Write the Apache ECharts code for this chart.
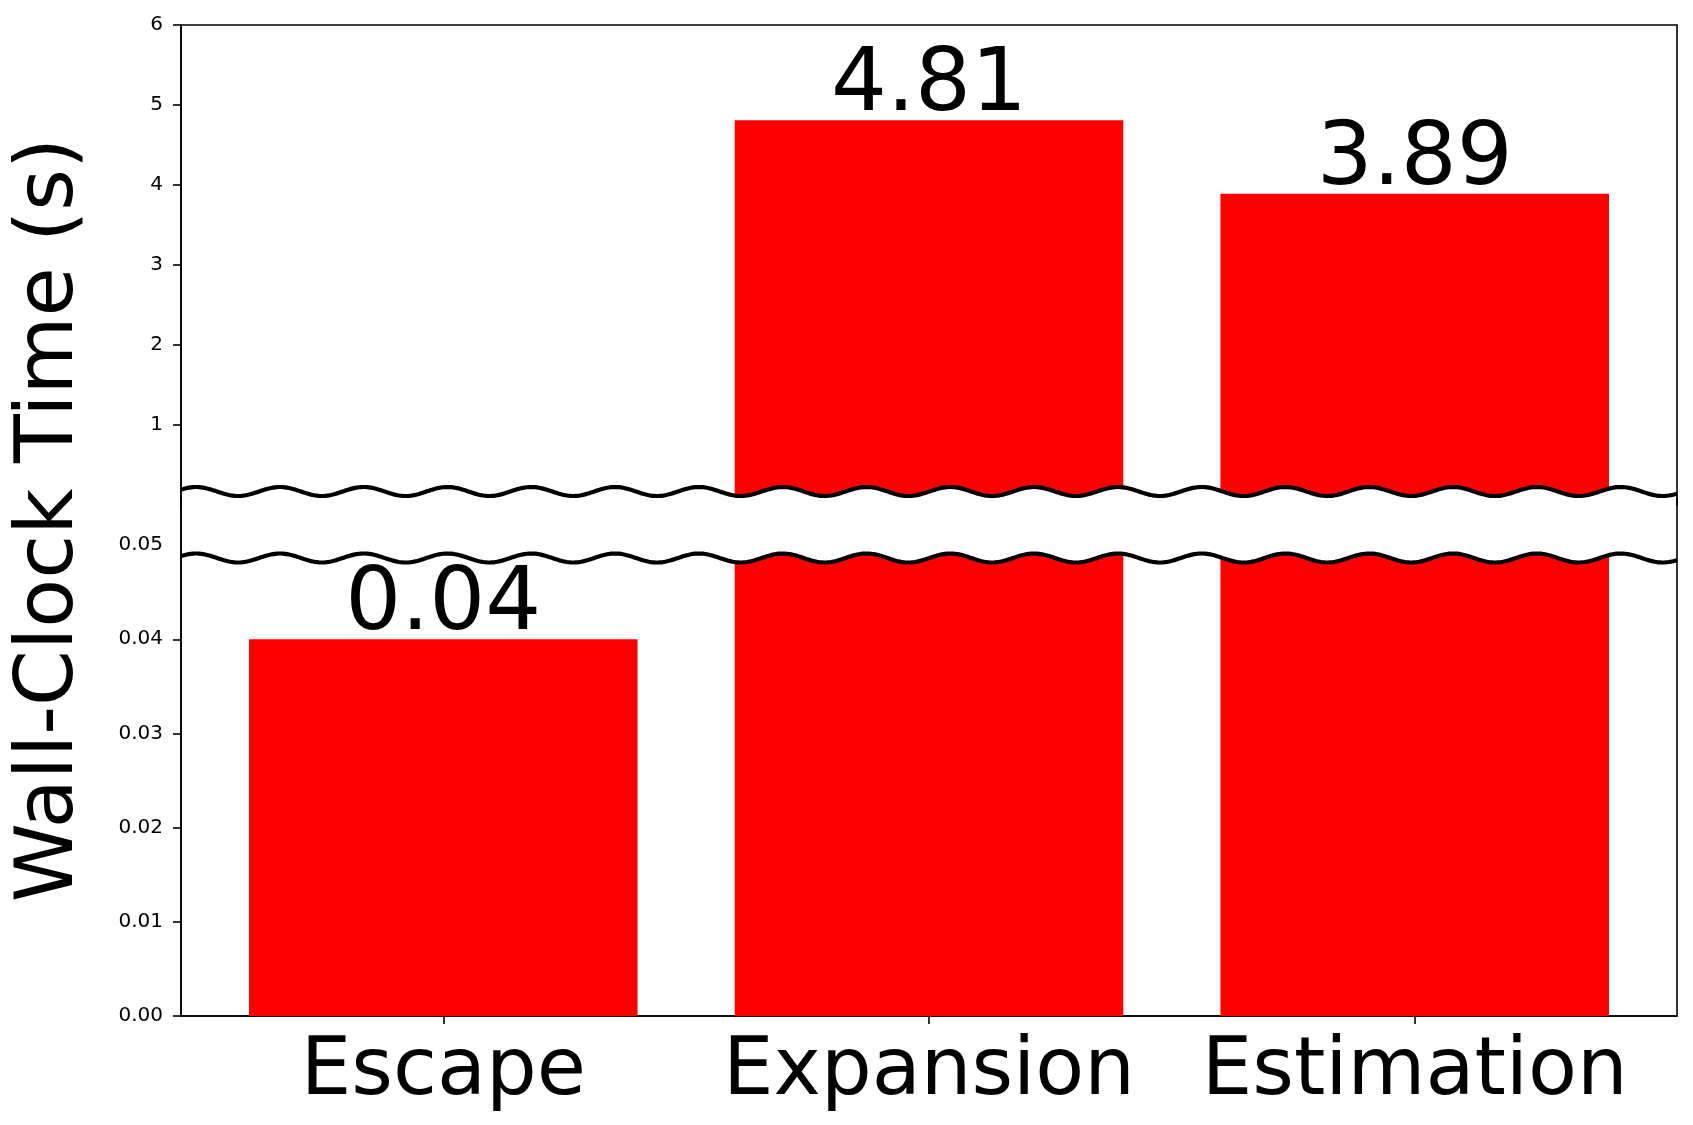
<!DOCTYPE html>
<html>
<head>
<meta charset="utf-8">
<script src="https://cdn.jsdelivr.net/npm/echarts@6/dist/echarts.min.js"></script>
<style>
  html, body { margin: 0; padding: 0; background: #fff; }
  #chart { width: 1693px; height: 1125px; }
</style>
</head>
<body>
<div id="chart"></div>
<script>
// data
const categories = ["Escape", "Expansion", "Estimation"];
const wallTimes = [0.04, 4.81, 3.89];
const upperTicks = [1, 2, 3, 4, 5, 6];
const lowerTicks = [0, 0.01, 0.02, 0.03, 0.04, 0.05];
const lowerTickMarks = [0, 0.01, 0.02, 0.03, 0.04];
const catPositions = [0, 1, 2];

const FONT = "DejaVu Sans";
const RED = "#ff0000";
const xMin = -0.54, xMax = 2.54;   // matplotlib-style margins around 0.8-wide bars
const lowerMax = 0.055;

const chart = echarts.init(document.getElementById("chart"));

const plotLeft = 181, plotRight = 16;
const plotWidth = 1693 - plotLeft - plotRight;
const barW = plotWidth * 0.8 / (xMax - xMin);

const barData = wallTimes.map((v, i) => [catPositions[i], v]);

const axisLine = { show: true, onZero: false, lineStyle: { color: "#000", width: 1.6 } };
const axisTick = { length: 8, lineStyle: { color: "#000", width: 1.6 } };

const option = {
  animation: false,
  backgroundColor: "#fff",
  grid: [
    { left: plotLeft, right: plotRight, top: 25, height: 480, show: true, borderColor: "#000", borderWidth: 1.6 },
    { left: plotLeft, right: plotRight, top: 498, bottom: 109, show: true, borderColor: "#000", borderWidth: 1.6 }
  ],
  xAxis: [
    { gridIndex: 0, type: "value", min: xMin, max: xMax, show: false },
    {
      gridIndex: 1, type: "value", min: xMin, max: xMax,
      axisLine: axisLine,
      axisTick: Object.assign({ customValues: catPositions }, axisTick),
      splitLine: { show: false },
      axisLabel: {
        customValues: catPositions,
        formatter: v => categories[Math.round(v)] || "",
        fontFamily: FONT, fontSize: 80, color: "#000", margin: 17
      }
    }
  ],
  yAxis: [
    {
      gridIndex: 0, type: "value", min: 0, max: 6, interval: 1,
      axisLine: axisLine,
      axisTick: Object.assign({ customValues: upperTicks }, axisTick),
      splitLine: { show: false },
      axisLabel: { customValues: upperTicks, fontFamily: FONT, fontSize: 20, color: "#000", margin: 18, padding: [5, 0, 0, 0] }
    },
    {
      gridIndex: 1, type: "value", min: 0, max: lowerMax, interval: 0.01,
      axisLine: axisLine,
      axisTick: Object.assign({ customValues: lowerTickMarks }, axisTick),
      splitLine: { show: false },
      axisLabel: {
        customValues: lowerTicks,
        formatter: v => v.toFixed(2),
        fontFamily: FONT, fontSize: 20, color: "#000", margin: 18, padding: [5, 0, 0, 0]
      }
    }
  ],
  series: [
    {
      type: "bar", xAxisIndex: 0, yAxisIndex: 0, data: barData,
      barWidth: barW, itemStyle: { color: RED },
      label: {
        show: true, position: "top", distance: -11,
        fontFamily: FONT, fontSize: 88, color: "#000",
        formatter: p => (p.value[1] > lowerMax ? p.value[1].toFixed(2) : "")
      }
    },
    {
      type: "bar", xAxisIndex: 1, yAxisIndex: 1, data: barData,
      barWidth: barW, itemStyle: { color: RED },
      label: {
        show: true, position: "top", distance: -11,
        fontFamily: FONT, fontSize: 88, color: "#000",
        formatter: p => (p.value[1] <= lowerMax ? p.value[1].toFixed(2) : "")
      }
    }
  ]
};

chart.setOption(option);

// axis break: white band between two wavy lines
const xl = chart.convertToPixel({ xAxisIndex: 1 }, xMin);
const xr = chart.convertToPixel({ xAxisIndex: 1 }, xMax);
const waveTop = 491.5, waveBottom = 558;
const amp = 4.5, period = 83.8, troughAt = 57;

function wave(yc, fromX, toX) {
  const pts = [];
  const step = fromX < toX ? 2 : -2;
  for (let x = fromX; step > 0 ? x <= toX : x >= toX; x += step) {
    pts.push([x, yc + amp * Math.cos(2 * Math.PI * (x - xl - troughAt) / period)]);
  }
  return pts;
}

const topPts = wave(waveTop, xl, xr);
const botPts = wave(waveBottom, xl, xr);
const bandPts = wave(waveTop, xl + 1, xr - 1).concat(wave(waveBottom, xr - 1, xl + 1));

chart.setOption({
  graphic: [
    { type: "polygon", z: 10, shape: { points: bandPts }, style: { fill: "#fff", stroke: null } },
    { type: "polyline", z: 11, shape: { points: topPts }, style: { stroke: "#000", lineWidth: 4.2, fill: null } },
    { type: "polyline", z: 11, shape: { points: botPts }, style: { stroke: "#000", lineWidth: 4.2, fill: null } },
    {
      type: "text", z: 12, x: 51, y: 520, rotation: Math.PI / 2,
      style: {
        text: "Wall-Clock Time (s)", fontFamily: FONT, fontSize: 80, fill: "#000",
        align: "center", verticalAlign: "middle"
      }
    }
  ]
});

window.addEventListener("resize", () => chart.resize());
</script>
</body>
</html>
